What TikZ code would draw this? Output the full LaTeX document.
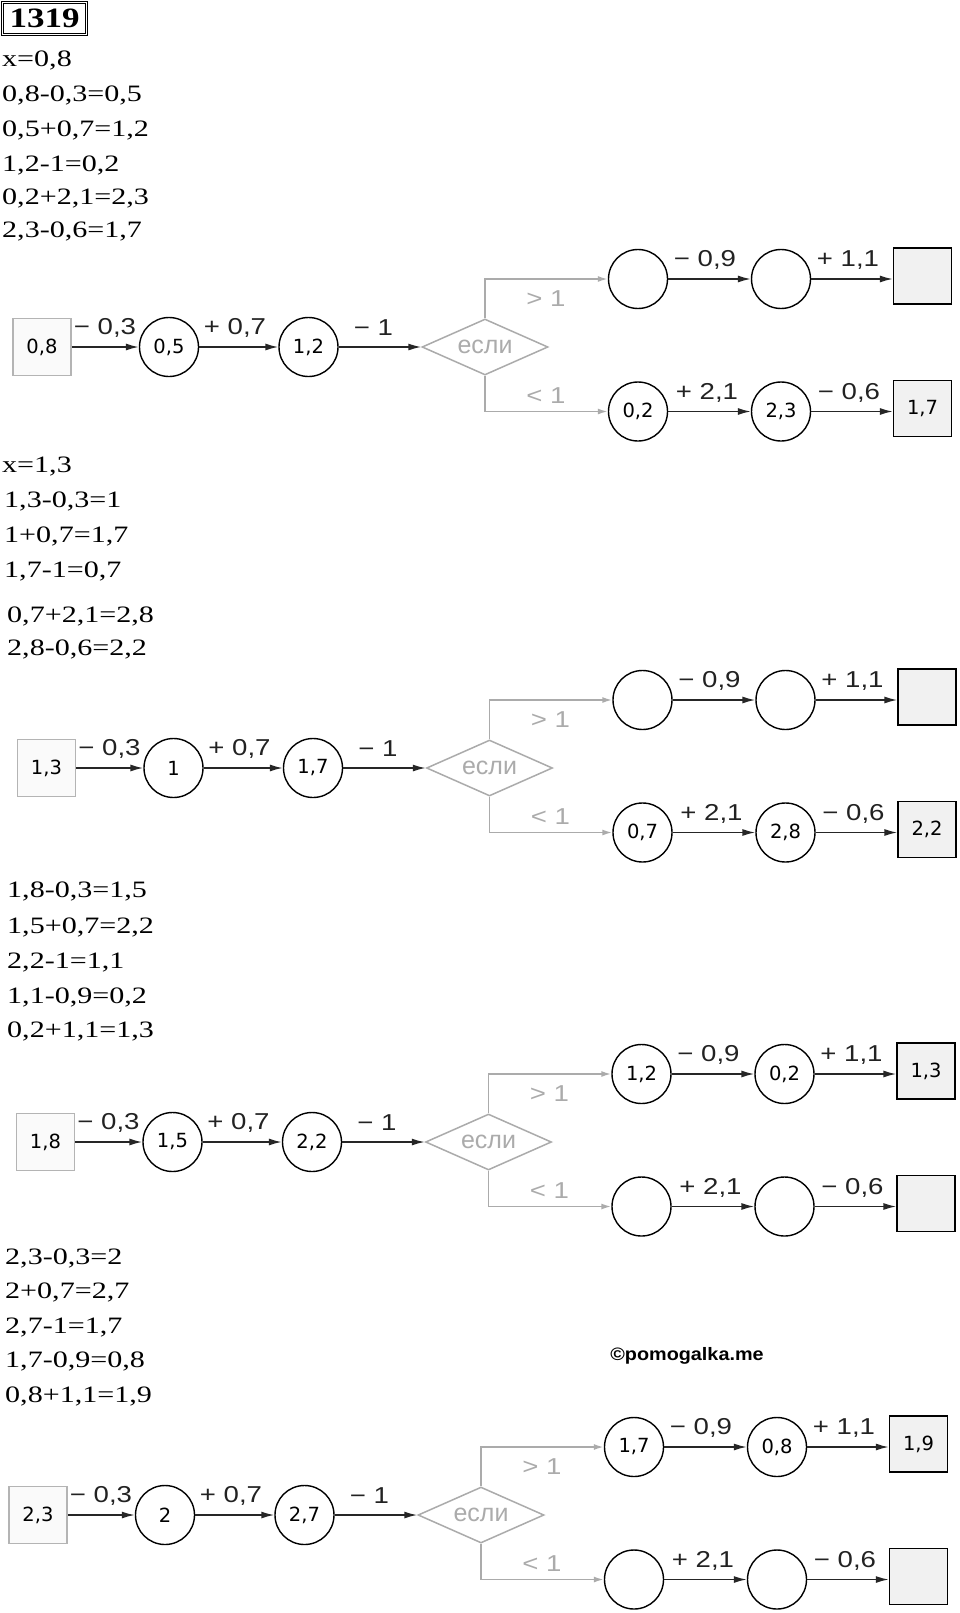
\documentclass[tikz,border=0pt]{standalone}
\usepackage{fontspec}
\setmainfont{Liberation Serif}
\usetikzlibrary{shapes.geometric,arrows.meta}
\newfontfamily\txtfam[FakeStretch=1.28]{Liberation Serif}
\newfontfamily\numfam[FakeStretch=1.25]{Liberation Serif}
\newfontfamily\lblfam[FakeStretch=1.2]{Liberation Sans}
\newfontfamily\condfam{Liberation Sans}
\newfontfamily\valfam{DejaVu Sans}
\newfontfamily\wmfam[FakeStretch=1.1]{Liberation Sans}
\newcommand\txtsize{\txtfam\fontsize{23.5}{26}\selectfont}
\newcommand\valsize{\valfam\fontsize{19.5}{22}\selectfont}
\newcommand\lblsize{\lblfam\fontsize{23}{26}\selectfont}
\newcommand\condsize{\condfam\fontsize{25}{27}\selectfont}
\definecolor{condgray}{HTML}{ABABAB}
\definecolor{inborder}{HTML}{B4B4B4}
\definecolor{infill}{HTML}{FAFAFA}
\definecolor{outfill}{HTML}{F1F1F1}
\definecolor{lbltext}{HTML}{222222}
\tikzset{
  mtext/.style={anchor=base west, inner sep=0pt, font=\txtsize},
  inbox/.style={draw=inborder, fill=infill, line width=1.5pt, minimum width=58pt, minimum height=57pt, inner sep=0pt, font=\valsize},
  outbox/.style={draw=black, fill=outfill, line width=1.4pt, minimum width=58pt, minimum height=56pt, inner sep=0pt, font=\valsize},
  calcnode/.style={circle, draw=black, fill=white, line width=1.4pt, minimum size=59pt, inner sep=0pt, font=\valsize},
  cond/.style={diamond, draw=condgray, line width=1.5pt, minimum width=126pt, minimum height=56pt, aspect=2.25, inner sep=0pt, font=\condsize, text=condgray},
  flow/.style={line width=1.5pt, draw=black!85, -{Latex[length=13pt,width=7pt]}},
  branch/.style={line width=1.7pt, draw=condgray, -{Latex[length=10pt,width=6pt]}},
  oplbl/.style={font=\lblsize, text=lbltext, inner sep=0pt},
  condlbl/.style={font=\lblsize, text=condgray, inner sep=0pt},
}
% #1 prefix, #2 input, #3 c1, #4 c2, #5 upper A, #6 upper B, #7 upper box, #8 lower A, #9 lower B; lower box = \lboxval
\newcommand\chain[9]{%
  \node[calcnode] (#1c1) at (0,0) {#3};
  \node[inbox] (#1in) at (-127,0) {#2};
  \node[calcnode] (#1c2) at (139.5,0) {#4};
  \node[cond] (#1if) at (316,0) {если};
  \node[calcnode] (#1uA) at (469,-68) {#5};
  \node[calcnode] (#1uB) at (612,-68) {#6};
  \node[outbox] (#1uR) at (753.5,-71) {#7};
  \node[calcnode] (#1lA) at (469,64.5) {#8};
  \node[calcnode] (#1lB) at (612,64.5) {#9};
  \node[outbox] (#1lR) at (753.5,61.5) {\lboxval};
  \draw[flow] (#1in) -- (#1c1);
  \draw[flow] (#1c1) -- (#1c2);
  \draw[flow] (#1c2) -- (#1if.west);
  \draw[branch] (#1if.north) |- (#1uA);
  \draw[branch] (#1if.south) |- (#1lA);
  \draw[flow] (#1uA) -- (#1uB);
  \draw[flow] (#1uB) -- (#1uB -| #1uR.west);
  \draw[flow] (#1lA) -- (#1lB);
  \draw[flow] (#1lB) -- (#1lB -| #1lR.west);
  \node[oplbl] (#1o1) at (-64,-19) {− 0,3};
  \node[oplbl] (#1o2) at (66,-19) {+ 0,7};
  \node[oplbl] (#1o3) at (204.5,-19) {− 1};
  \node[condlbl] (#1g1) at (377,-48.5) {> 1};
  \node[condlbl] (#1g2) at (377,49) {< 1};
  \node[oplbl] (#1o4) at (536,-87) {− 0,9};
  \node[oplbl] (#1o5) at (679,-87) {+ 1,1};
  \node[oplbl] (#1o6) at (538,45.5) {+ 2,1};
  \node[oplbl] (#1o7) at (680,45.5) {− 0,6};
}
\begin{document}
\begin{tikzpicture}[x=1pt,y=-1pt]
\path[fill=white] (0,0) rectangle (960,1613);
\useasboundingbox (0,0) rectangle (960,1613);
% title box
\node[draw=black, line width=1.1pt, double, double distance=0.9pt, minimum width=84pt, minimum height=32pt, inner sep=0pt, font=\numfam\bfseries\fontsize{28}{30}\selectfont] (title) at (44.5,18.5) {1319};
% block 1
\node[mtext] (t11) at (2,67) {x=0,8};
\node[mtext] (t12) at (2,102) {0,8-0,3=0,5};
\node[mtext] (t13) at (2,137) {0,5+0,7=1,2};
\node[mtext] (t14) at (2,172) {1,2-1=0,2};
\node[mtext] (t15) at (2,205) {0,2+2,1=2,3};
\node[mtext] (t16) at (2,238) {2,3-0,6=1,7};
% block 2
\node[mtext] (t21) at (2,472) {x=1,3};
\node[mtext] (t22) at (4,507) {1,3-0,3=1};
\node[mtext] (t23) at (4,542) {1+0,7=1,7};
\node[mtext] (t24) at (4,577) {1,7-1=0,7};
\node[mtext] (t25) at (7,622) {0,7+2,1=2,8};
\node[mtext] (t26) at (7,655) {2,8-0,6=2,2};
% block 3
\node[mtext] (t31) at (7,897) {1,8-0,3=1,5};
\node[mtext] (t32) at (7,933) {1,5+0,7=2,2};
\node[mtext] (t33) at (7,968) {2,2-1=1,1};
\node[mtext] (t34) at (7,1003) {1,1-0,9=0,2};
\node[mtext] (t35) at (7,1037) {0,2+1,1=1,3};
% block 4
\node[mtext] (t41) at (5,1264) {2,3-0,3=2};
\node[mtext] (t42) at (5,1298) {2+0,7=2,7};
\node[mtext] (t43) at (5,1333) {2,7-1=1,7};
\node[mtext] (t44) at (5,1367) {1,7-0,9=0,8};
\node[mtext] (t45) at (5,1402) {0,8+1,1=1,9};
% watermark
\node[inner sep=0pt, font=\wmfam\bfseries\fontsize{18}{20}\selectfont] (wm) at (687,1356) {©pomogalka.me};
% diagrams
\begin{scope}[shift={(169,347)}]
  \def\lboxval{1,7}
  \chain{a}{0,8}{0,5}{1,2}{}{}{}{0,2}{2,3}
\end{scope}
\begin{scope}[shift={(173.5,768)}]
  \def\lboxval{2,2}
  \chain{b}{1,3}{1}{1,7}{}{}{}{0,7}{2,8}
\end{scope}
\begin{scope}[shift={(172.5,1142)}]
  \def\lboxval{}
  \chain{c}{1,8}{1,5}{2,2}{1,2}{0,2}{1,3}{}{}
\end{scope}
\begin{scope}[shift={(165,1515)}]
  \def\lboxval{}
  \chain{d}{2,3}{2}{2,7}{1,7}{0,8}{1,9}{}{}
\end{scope}
\end{tikzpicture}
\end{document}
